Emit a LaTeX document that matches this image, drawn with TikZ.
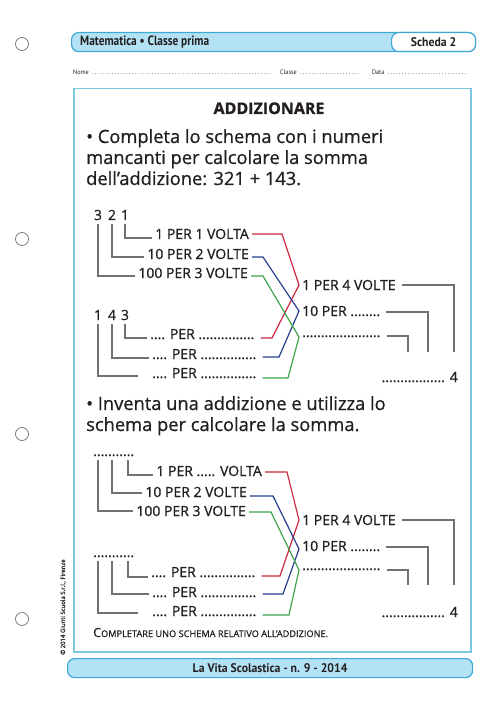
\documentclass[tikz,border=0pt]{standalone}
\usepackage{fontspec}
\setmainfont{Open Sans}[FakeBold=0.8]
\newfontfamily\headfont{PT Sans}[FakeStretch=0.94]
\newfontfamily\subjectfont{PT Sans}[FakeStretch=0.84]
\usetikzlibrary{%
	calc,%
	positioning,%
}
\definecolor{cheadlight}{RGB}{180, 226, 245}
\definecolor{chead}{RGB}{62, 168, 212}
\definecolor{cframe}{RGB}{125, 200, 225}
\definecolor{cred}{RGB}{200, 40, 60}
\definecolor{cblue}{RGB}{38, 62, 142}
\definecolor{cgreen}{RGB}{62, 165, 75}
\definecolor{cgrey}{RGB}{112, 112, 112}
\definecolor{cink}{RGB}{35, 31, 32}
\tikzset{
	hole/.style={%
			draw=cgrey,%
			circle,%
			line width=0.7pt,%
			minimum size=13pt,%
			inner sep=0pt},%
	headbar/.style={%
			draw=chead,%
			fill=cheadlight,%
			rectangle,%
			line width=1.2pt,%
			rounded corners=7pt,%
			minimum height=19pt,%
			inner sep=0pt},%
	headtext/.style={%
			text=cink,%
			inner sep=0pt,%
			font={\headfont\bfseries\fontsize{12.5}{15}\selectfont}},%
	fieldtext/.style={%
			text=cink,%
			anchor=base west,%
			inner sep=0pt,%
			font={\headfont\fontsize{6.5}{8}\selectfont}},%
	qtext/.style={%
			text=cink,%
			anchor=base west,%
			inner sep=3pt,%
			font={\fontsize{18.3}{21}\selectfont}},%
	digit/.style={%
			text=cink,%
			anchor=base,%
			inner xsep=0pt,%
			inner ysep=4pt,%
			text depth=0pt,%
			font={\fontsize{14}{16}\selectfont}},%
	rowtext/.style={%
			text=cink,%
			inner xsep=3pt,%
			inner ysep=0pt,%
			text height=10pt,%
			text depth=0pt,%
			font={\fontsize{14}{16}\selectfont}},%
	legline/.style={%
			draw=cgrey,%
			line width=1.05pt},%
	link/.style={%
			line width=1.2pt,%
			shorten >=3pt},%
}

\begin{document}
\begin{tikzpicture}[x=1pt, y=-1pt]
	\useasboundingbox (0,0) rectangle (500,708);

	\node[hole] (hole1) at (22,44) {};
	\node[hole] (hole2) at (22,239) {};
	\node[hole] (hole3) at (22,434) {};
	\node[hole] (hole4) at (22,619) {};

	\node[headbar, minimum width=404pt, anchor=north west] (bar) at (71,32) {};
	\node[headbar, fill=white, minimum width=84pt, anchor=north east] (scheda) at (bar.north east) {};
	\node[headtext] (schedatext) at (scheda.center) {Scheda 2};
	\node[headtext, anchor=west, font={\subjectfont\bfseries\fontsize{13.5}{15}\selectfont}] (subject) at ([xshift=9pt]bar.west) {Matematica • Classe prima};

	\node[fieldtext] (nome) at (73,75) {Nome \makebox[182pt]{\dotfill}};
	\node[fieldtext] (classe) at (280,75) {Classe \makebox[62pt]{\dotfill}};
	\node[fieldtext] (data) at (372,75) {Data \makebox[82pt]{\dotfill}};

	\node[draw=cframe, line width=1.5pt, minimum width=397pt, minimum height=563pt, anchor=north west] (frame) at (73,88) {};

	\node[text=cink, anchor=base, font={\bfseries\fontsize{16}{18}\selectfont}] (title) at (269,114) {ADDIZIONARE};

	\node[qtext] (q1a) at (83,143) {• Completa lo schema con i numeri};
	\node[qtext] (q1b) at (83,164) {mancanti per calcolare la somma};
	\node[qtext] (q1c) at (83,185) {dell’addizione: 321 + 143.};

	% first scheme
	\node[digit] (n3) at (98,220) {3};
	\node[digit] (n2) at (112,220) {2};
	\node[digit] (n1) at (125,220) {1};
	\node[rowtext, anchor=base east] (r1) at (252,239) {1 PER 1 VOLTA};
	\node[rowtext, anchor=base east] (r2) at (252,259) {10 PER 2 VOLTE};
	\node[rowtext, anchor=base east] (r3) at (251,278) {100 PER 3 VOLTE};

	\node[digit] (p3) at (98,320) {1};
	\node[digit] (p2) at (112,320) {4};
	\node[digit] (p1) at (125,320) {3};
	\node[rowtext, anchor=base west] (b1) at (147,339) {.... PER ...............};
	\node[rowtext, anchor=base west] (b2) at (149,359) {.... PER ...............};
	\node[rowtext, anchor=base west] (b3) at (149,378) {.... PER ...............};

	\node[rowtext, anchor=base west] (m1) at (299,290) {1 PER 4 VOLTE};
	\node[rowtext, anchor=base west] (m2) at (299,316) {10 PER ........};
	\node[rowtext, anchor=base west] (m3) at (299,337) {.....................};
	\node[rowtext, anchor=base east] (res1) at (461,382) {................. 4};
	\coordinate (c1) at (454,352);
	\coordinate (c2) at (428,352);
	\coordinate (c3) at (408,352);

	\draw[legline] (n1.south) |- ([yshift=1pt]r1.base west);
	\draw[legline] (n2.south) |- ([yshift=2pt]r2.base west);
	\draw[legline] (n3.south) |- ([yshift=2pt]r3.base west);
	\draw[legline] (p1.south) |- ([yshift=1pt]b1.base west);
	\draw[legline] (p2.south) |- ([yshift=1pt]b2.base west);
	\draw[legline] (p3.south) |- ([shift={(-11pt,2pt)}]b3.base west);
	\draw[legline, shorten <=3pt] (m1.east) -| (c1);
	\draw[legline, shorten <=3pt] ([yshift=-1pt]m2.east) -| (c2);
	\draw[legline, shorten <=3pt] ([yshift=1pt]m3.base east) -| (c3);

	\draw[link, cred] (r1.east) -- ++(30,0) -- (m1.west) -- ++(-27,53) coordinate (k1) -- (k1 -| b1.east);
	\draw[link, cblue] ([yshift=-3pt]r2.east) -- ++(11,0) -- (m2.west) -- ++(-20,46) coordinate (k2) -- (k2 -| b2.east);
	\draw[link, cgreen] ([yshift=-3pt]r3.east) -- ++(12,0) -- (m3.base west) -- ++(-11,41) coordinate (k3) -- (k3 -| b3.east);

	\node[qtext] (q2a) at (83,410) {• Inventa una addizione e utilizza lo};
	\node[qtext] (q2b) at (83,431) {schema per calcolare la somma.};

	% second scheme
	\node[digit, anchor=base west] (top2) at (93,456) {...........};
	\node[rowtext, anchor=base east] (t1) at (265,476) {1 PER ..... VOLTA};
	\node[rowtext, anchor=base east] (t2) at (250,497) {10 PER 2 VOLTE};
	\node[rowtext, anchor=base east] (t3) at (249,516) {100 PER 3 VOLTE};

	\node[digit, anchor=base west] (bot2) at (93,557) {...........};
	\node[rowtext, anchor=base west] (u1) at (148,577) {.... PER ...............};
	\node[rowtext, anchor=base west] (u2) at (149,597) {.... PER ...............};
	\node[rowtext, anchor=base west] (u3) at (149,616) {.... PER ...............};

	\node[rowtext, anchor=base west] (mm1) at (299,525) {1 PER 4 VOLTE};
	\node[rowtext, anchor=base west] (mm2) at (299,551) {10 PER ........};
	\node[rowtext, anchor=base west] (mm3) at (299,570) {.....................};
	\node[rowtext, anchor=base east] (res2) at (461,617) {................. 4};
	\coordinate (e1) at (454,585);
	\coordinate (e2) at (428,585);
	\coordinate (e3) at (408,585);

	\draw[legline] ([xshift=35pt]top2.south west) |- ([yshift=1pt]t1.base west);
	\draw[legline] ([xshift=19pt]top2.south west) |- ([yshift=4pt]t2.base west);
	\draw[legline] ([xshift=5pt]top2.south west) |- ([yshift=5pt]t3.base west);
	\draw[legline] ([xshift=35pt]bot2.south west) |- (u1.base west);
	\draw[legline] ([xshift=19pt]bot2.south west) |- ([yshift=3pt]u2.base west);
	\draw[legline] ([xshift=5pt]bot2.south west) |- ([shift={(-11pt,3pt)}]u3.base west);
	\draw[legline, shorten <=3pt] (mm1.east) -| (e1);
	\draw[legline, shorten <=3pt] ([yshift=-1pt]mm2.east) -| (e2);
	\draw[legline, shorten <=3pt] (mm3.base east) -| (e3);

	\draw[link, cred] ([yshift=-1pt]t1.east) -- ++(22,0) -- (mm1.west) -- ++(-19,56) coordinate (k4) -- (k4 -| u1.east);
	\draw[link, cblue] ([yshift=-4pt]t2.east) -- ++(23,0) -- ([yshift=-3pt]mm2.west) -- ++(-16,45) coordinate (k5) -- (k5 -| u2.east);
	\draw[link, cgreen] ([yshift=-1pt]t3.east) -- ++(22,0) -- (mm3.base west) -- ++(-10,45) coordinate (k6) -- (k6 -| u3.east);

	\node[text=cink, anchor=base west, inner sep=0pt] (note) at (93,637) {{\fontsize{12.5}{13}\selectfont C}{\fontsize{9.2}{13}\selectfont OMPLETARE UNO SCHEMA RELATIVO ALL’ADDIZIONE.}};

	\node[text=cink, rotate=90, anchor=base west, inner sep=0pt, font={\fontsize{6}{7}\selectfont}] (copy) at (65,655) {© 2014 Giunti Scuola S.r.l., Firenze};

	\node[headbar, minimum width=405pt, anchor=north west] (foot) at (67,658) {};
	\node[headtext] (footer) at (foot.center) {La Vita Scolastica - n. 9 - 2014};
\end{tikzpicture}
\end{document}
